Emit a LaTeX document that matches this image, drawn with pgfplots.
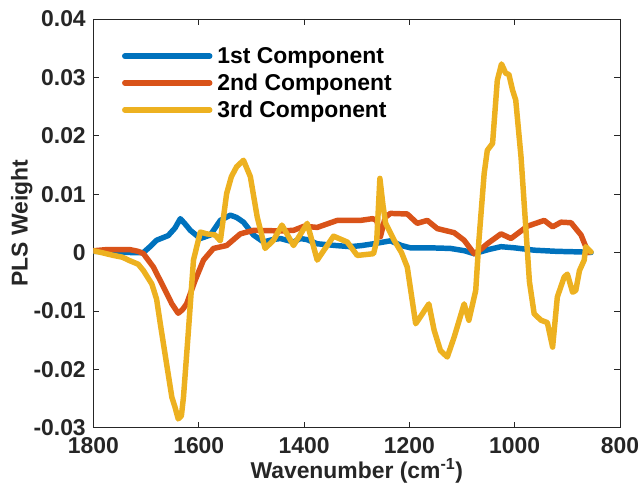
\documentclass[border=0pt]{standalone}
\usepackage{pgfplots}
\pgfplotsset{compat=1.18}
\usepackage{fontspec}
\setmainfont{Liberation Sans}
\definecolor{mblue}{rgb}{0,0.447,0.741}
\definecolor{mred}{rgb}{0.85,0.325,0.098}
\definecolor{myellow}{rgb}{0.929,0.694,0.125}
\definecolor{axgray}{rgb}{0.15,0.15,0.15}
\begin{document}
\begin{tikzpicture}
\begin{axis}[
  scale only axis, width=527bp, height=409bp,
  xmin=800, xmax=1800, ymin=-0.03, ymax=0.04,
  x dir=reverse,
  scaled y ticks=false, scaled x ticks=false,
  axis line style={axgray, line width=0.8pt},
  tick style={axgray, line width=0.8pt},
  tick align=inside, major tick length=6bp,
  xtick={800,1000,1200,1400,1600,1800},
  xticklabels={800,1000,1200,1400,1600,1800},
  ytick={-0.03,-0.02,-0.01,0,0.01,0.02,0.03,0.04},
  yticklabels={-0.03,-0.02,-0.01,0,0.01,0.02,0.03,0.04},
  ticklabel style={font=\fontsize{23}{26}\selectfont\bfseries, text=axgray},
  xticklabel style={inner sep=1bp, yshift=-9bp},
  yticklabel style={inner sep=1bp, xshift=-6.5bp},
  label style={font=\fontsize{23}{26}\selectfont\bfseries, text=axgray},
  xlabel={Wavenumber (cm\textsuperscript{-1})},
  ylabel={PLS Weight},
  xlabel style={at={(axis description cs:0.5,-0.105)}, anchor=center},
  ylabel style={at={(axis description cs:-0.136,0.5)}, anchor=center},
  legend style={at={(axis description cs:0.054,0.936)}, anchor=north west,
    draw=none, fill=none, font=\fontsize{23}{26}\selectfont\bfseries, text=black,
    row sep=5bp, inner sep=0pt},
  legend cell align=left,
  legend image code/.code={\draw[#1, line width=5.5pt] (0bp,0bp) -- (85bp,0bp);\path (88bp,0bp);},
  every axis plot/.append style={line width=5.5pt, line join=round, line cap=round},
]
\addplot[mblue] coordinates {
(1800,0.0002)(1760,0.0001)(1730,0.0)(1705,0.0)(1690,0.0012)(1680,0.0021)(1658,0.0029)(1645,0.0042)(1635,0.0058)(1625,0.0048)(1616,0.0038)(1597,0.0024)(1578,0.003)(1559,0.0055)(1540,0.0064)(1528,0.006)(1515,0.0052)(1496,0.003)(1477,0.0018)(1460,0.0022)(1445,0.0024)(1420,0.0018)(1407,0.0024)(1394,0.0022)(1375,0.0015)(1340,0.0012)(1312,0.001)(1290,0.0012)(1268,0.0015)(1236,0.002)(1215,0.0012)(1198,0.0008)(1160,0.0008)(1122,0.0007)(1095,0.0003)(1077,-0.0002)(1050,0.0005)(1026,0.001)(1000,0.0008)(963,0.0004)(920,0.0002)(874,0.0001)(855,0.0)
};
\addlegendentry{1st Component}
\addplot[mred] coordinates {
(1800,0.0003)(1775,0.0005)(1731,0.0005)(1715,0.0002)(1705,-0.0002)(1686,-0.0025)(1667,-0.0059)(1651,-0.0088)(1639,-0.0104)(1631,-0.0098)(1623,-0.0088)(1607,-0.0048)(1591,-0.0013)(1572,0.0007)(1547,0.0012)(1521,0.0032)(1496,0.0038)(1445,0.0037)(1420,0.0038)(1400,0.0045)(1375,0.0043)(1337,0.0055)(1293,0.0055)(1270,0.0058)(1262,0.0055)(1255,0.0027)(1246,0.006)(1236,0.0067)(1204,0.0066)(1185,0.005)(1166,0.0055)(1147,0.0041)(1115,0.0034)(1096,0.0021)(1077,-0.0002)(1065,0.0005)(1052,0.0015)(1026,0.0032)(1007,0.0024)(976,0.0045)(944,0.0055)(928,0.0044)(912,0.0052)(893,0.0051)(874,0.003)(865,0.001)(860,0.0)
};
\addlegendentry{2nd Component}
\addplot[myellow] coordinates {
(1800,0.0003)(1785,0.0)(1762,-0.0005)(1745,-0.0008)(1731,-0.0014)(1715,-0.002)(1705,-0.0031)(1689,-0.0054)(1680,-0.008)(1673,-0.0122)(1661,-0.0191)(1651,-0.0248)(1645,-0.0265)(1639,-0.0285)(1633,-0.028)(1629,-0.0248)(1620,-0.0139)(1610,-0.0013)(1597,0.0035)(1585,0.0032)(1569,0.003)(1559,0.002)(1547,0.0101)(1538,0.013)(1528,0.0147)(1515,0.0158)(1502,0.013)(1489,0.0061)(1474,0.0007)(1458,0.0021)(1442,0.0047)(1420,0.0012)(1394,0.005)(1375,-0.0013)(1344,0.0028)(1318,0.0018)(1299,-0.0005)(1268,-0.0002)(1262,0.002)(1256,0.0127)(1250,0.008)(1245,0.005)(1229,0.0021)(1215,0.0)(1204,-0.0025)(1188,-0.0122)(1179,-0.011)(1163,-0.0088)(1153,-0.0133)(1141,-0.0168)(1128,-0.0179)(1115,-0.0145)(1096,-0.0088)(1087,-0.0116)(1074,-0.0065)(1068,0.002)(1058,0.0135)(1052,0.0175)(1042,0.0187)(1033,0.0295)(1025,0.0323)(1017,0.0307)(1011,0.0305)(1004,0.0278)(998,0.0261)(988,0.0164)(979,0.0044)(972,-0.005)(963,-0.0105)(950,-0.0116)(938,-0.012)(928,-0.0162)(919,-0.0076)(906,-0.0042)(900,-0.0037)(890,-0.0068)(884,-0.0065)(877,-0.0031)(868,-0.0013)(865,0.001)(855,0.0001)
};
\addlegendentry{3rd Component}
\end{axis}
\pgfresetboundingbox
\path[use as bounding box] (-93.5bp,-62bp) rectangle (547bp,428bp);
\end{tikzpicture}
\end{document}
